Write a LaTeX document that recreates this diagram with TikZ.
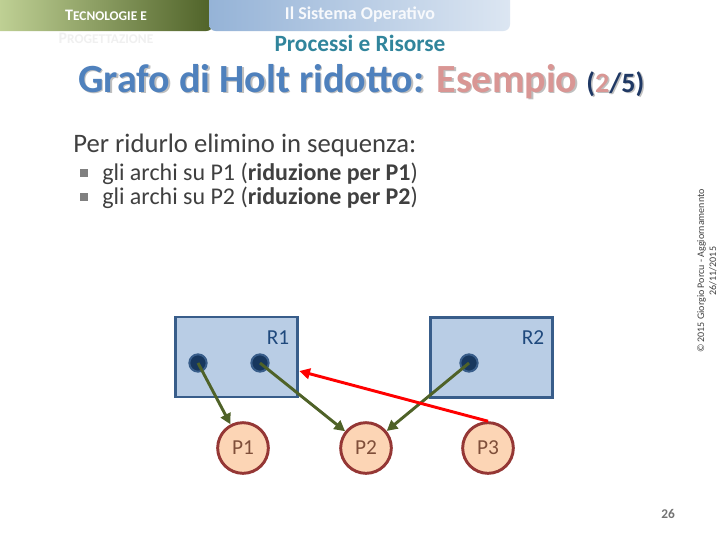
\documentclass[tikz,border=0pt]{standalone}
\usepackage{fontspec}
\setmainfont{Carlito}
\usetikzlibrary{arrows.meta,calc}
\definecolor{gdark}{HTML}{4F6228}
\definecolor{glight}{HTML}{C9DA9E}
\definecolor{bleft}{HTML}{95B3D7}
\definecolor{bright}{HTML}{DCE6F2}
\definecolor{teal}{HTML}{31859C}
\definecolor{tblue}{HTML}{4F81BD}
\definecolor{tpink}{HTML}{D99694}
\definecolor{tnavy}{HTML}{1F3864}
\definecolor{txt}{HTML}{404040}
\definecolor{boxfill}{HTML}{B9CDE5}
\definecolor{boxline}{HTML}{385D8A}
\definecolor{dotfill}{HTML}{17375E}
\definecolor{pfill}{HTML}{FCD5B5}
\definecolor{pline}{HTML}{953735}
\definecolor{plabel}{HTML}{7F4F3A}
\definecolor{rlabel}{HTML}{1F497D}
\tikzset{
  rbox/.style={draw=boxline, fill=boxfill, line width=2.2pt, minimum width=92pt, minimum height=60pt, inner sep=0pt},
  rdot/.style={circle, draw=boxline, fill=dotfill, line width=1.5pt, minimum size=13pt, inner sep=0pt},
  proc/.style={circle, draw=pline, fill=pfill, line width=2.2pt, minimum size=38pt, inner sep=0pt, text=plabel, font=\fontsize{16}{18}\selectfont},
  rlab/.style={text=rlabel, font=\fontsize{16}{18}\selectfont, inner sep=0pt},
  garrow/.style={draw=gdark, line width=2.2pt, -{Triangle[length=8pt,width=8pt]}},
  rarrow/.style={draw=red, line width=2.2pt, -{Triangle[length=8pt,width=8pt]}},
  bodytxt/.style={text=txt, anchor=base west, inner sep=0pt},
  bsq/.style={fill=black!50, minimum size=5.5pt, inner sep=0pt},
}
\begin{document}
\begin{tikzpicture}[x=0.75pt,y=-0.75pt]
\useasboundingbox (0,0) rectangle (720,540);
\clip (0,0) rectangle (720,540);
\fill[white] (0,0) rectangle (720,540);
% header bars
\shade[left color=glight, right color=gdark, rounded corners=5pt] (-20,-20) rectangle (213,31);
\shade[left color=bleft, right color=bright, rounded corners=5pt] (209,-20) rectangle (510,31);
\node[text=white, font=\bfseries\fontsize{12}{14}\selectfont, inner sep=0pt] (h1) at (106,15) {T\fontsize{10}{12}\selectfont ECNOLOGIE E};
\node[text=black!6, font=\bfseries\fontsize{12}{14}\selectfont, inner sep=0pt] (h2) at (106,38) {P\fontsize{10}{12}\selectfont ROGETTAZIONE};
\node[text=white!92!bleft, font=\bfseries\fontsize{13.5}{16}\selectfont, inner sep=0pt] (h3) at (360,15) {Il Sistema Operativo};
\node[text=teal, font=\bfseries\fontsize{17.5}{20}\selectfont, inner sep=0pt] (h4) at (360,43) {Processi e Risorse};
% title with shadow
\node[anchor=base west, inner sep=0pt, text=black!25, font=\bfseries\fontsize{30}{36}\selectfont] (tsh) at (79.5,93.5) {Grafo di Holt ridotto: Esempio {\fontsize{21}{25}\selectfont(2/5)}};
\node[anchor=base west, inner sep=0pt, font=\bfseries\fontsize{30}{36}\selectfont] (title) at (78,92) {\textcolor{tblue}{Grafo di Holt ridotto:} \textcolor{tpink}{Esempio} {\fontsize{21}{25}\selectfont\textcolor{tnavy}{(}\textcolor{tpink}{2}\textcolor{tnavy}{/5)}}};
% body text
\node[bodytxt, font=\fontsize{20}{24}\selectfont] (l1) at (73,152) {Per ridurlo elimino in sequenza:};
\node[bodytxt, font=\fontsize{18}{22}\selectfont] (l2) at (102,180) {gli archi su P1 (\textbf{riduzione per P1})};
\node[bodytxt, font=\fontsize{18}{22}\selectfont] (l3) at (102,204) {gli archi su P2 (\textbf{riduzione per P2})};
\node[bsq] (b2) at (84,173) {};
\node[bsq] (b3) at (84,197) {};
% copyright
\node[rotate=90, text=txt, align=center, font=\fontsize{7.5}{9}\selectfont, inner sep=0pt] (copy) at (707,271) {© 2015 Giorgio Porcu - Aggiornamennto\\26/11/2015};
% page number
\node[text=black!55, font=\bfseries\fontsize{10}{12}\selectfont, inner sep=0pt] (pg) at (668,514) {26};
% graph
\node[rbox] (R1) at (236.5,357) {};
\node[rbox] (R2) at (491.5,357.5) {};
\node[rlab] (R1l) at (278,338) {R1};
\node[rlab] (R2l) at (533,338) {R2};
\node[rdot] (d1) at (198,363) {};
\node[rdot] (d2) at (260,363) {};
\node[rdot] (d3) at (469,363) {};
\node[proc] (P1) at (243,448) {P1};
\node[proc] (P2) at (366,448) {P2};
\node[proc] (P3) at (488,448) {P3};
\coordinate (r1in) at ($(R1.east)+(0,14)$);
\draw[garrow] (d1.center) -- (P1);
\draw[garrow] (d2.center) -- (P2);
\draw[garrow] (d3.center) -- (P2);
\draw[rarrow] (P3.north) -- (r1in);
\end{tikzpicture}
\end{document}
